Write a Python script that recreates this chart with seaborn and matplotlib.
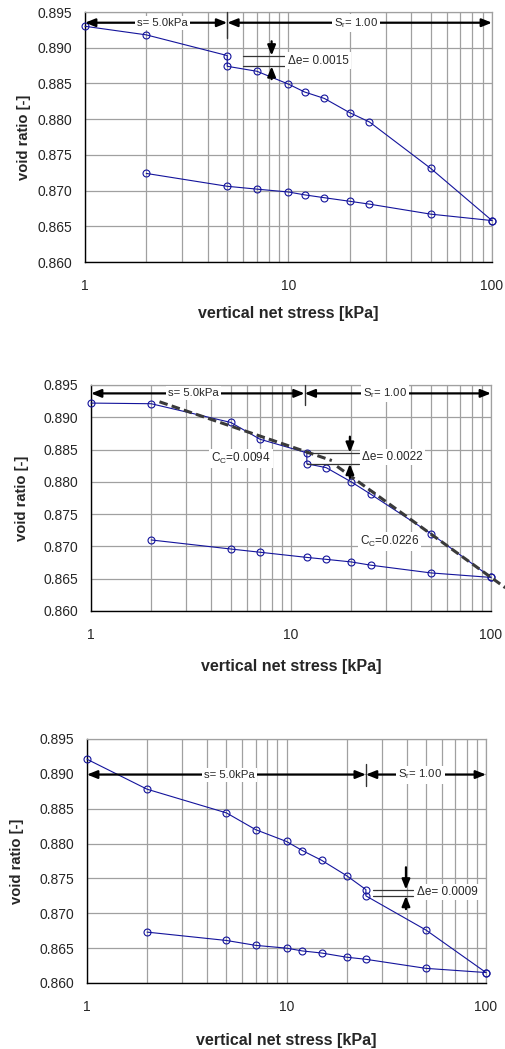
import numpy as np
import pandas as pd
import matplotlib
matplotlib.use("Agg")
import matplotlib.pyplot as plt
from matplotlib.ticker import LogLocator, FixedLocator, NullFormatter, FixedFormatter
import seaborn as sns

sns.set_style("white")
plt.rcParams['font.family'] = ['Liberation Sans', 'DejaVu Sans']
plt.rcParams['mathtext.fontset'] = 'custom'
plt.rcParams['mathtext.rm'] = 'Liberation Sans'
plt.rcParams['mathtext.it'] = 'Liberation Sans'

# ---------------- data ----------------
p1_load_x = [1, 2, 5, 5, 7, 10, 12, 15, 20, 25, 50, 100]
p1_load_e = [0.8930, 0.8918, 0.8889, 0.8874, 0.8867, 0.8849, 0.8838, 0.8829, 0.8809, 0.8796, 0.8731, 0.8658]
p1_unload_x = [100, 50, 25, 20, 15, 12, 10, 7, 5, 2]
p1_unload_e = [0.8658, 0.8667, 0.8681, 0.8685, 0.8690, 0.8694, 0.8698, 0.8702, 0.8706, 0.8724]

p2_load_x = [1, 2, 5, 7, 12, 12, 15, 20, 25, 50, 100]
p2_load_e = [0.8922, 0.8921, 0.8892, 0.8866, 0.8845, 0.8828, 0.8822, 0.8800, 0.8781, 0.8720, 0.8652]
p2_unload_x = [100, 50, 25, 20, 15, 12, 7, 5, 2]
p2_unload_e = [0.8652, 0.8659, 0.8671, 0.8676, 0.8680, 0.8683, 0.8691, 0.8696, 0.8710]

p3_load_x = [1, 2, 5, 7, 10, 12, 15, 20, 25, 25, 50, 100]
p3_load_e = [0.8921, 0.8878, 0.8844, 0.8820, 0.8803, 0.8790, 0.8776, 0.8754, 0.8734, 0.8725, 0.8676, 0.8615]
p3_unload_x = [100, 50, 25, 20, 15, 12, 10, 7, 5, 2]
p3_unload_e = [0.8615, 0.8621, 0.8634, 0.8637, 0.8643, 0.8646, 0.8650, 0.8654, 0.8661, 0.8673]

# compression index fit lines (panel 2)
cc1_x = [2.2, 16.0]
cc1_e = [0.8924, 0.8833]
cc2_x = [17.0, 118.0]
cc2_e = [0.8824, 0.8636]
cc_labels = ["C$_\\mathrm{C}$=0.0094", "C$_\\mathrm{C}$=0.0226"]

suction_label = "s= 5.0kPa"
sr_label = "S$_\\mathrm{r}$= 1.00"
de_labels = ["\u0394e= 0.0015", "\u0394e= 0.0022", "\u0394e= 0.0009"]

y_ticks = [0.860, 0.865, 0.870, 0.875, 0.880, 0.885, 0.890, 0.895]
x_ticks = [1, 10, 100]
x_ticklabels = ["1", "10", "100"]

xlabel = "vertical net stress [kPa]"
ylabel = "void ratio [-]"

# ---------------- layout/style ----------------
W, H = 506, 1049
fig = plt.figure(figsize=(W / 100, H / 100), dpi=100)

def px_axes(l, r, t, b):
    return fig.add_axes([l / W, 1 - b / H, (r - l) / W, (b - t) / H])

navy = '#14149c'
gridc = '#a0a0a0'

panels = [
    dict(box=(85, 492, 12, 262), load=(p1_load_x, p1_load_e), unload=(p1_unload_x, p1_unload_e),
         arrow_y=0.8935, split=5, tick=(0.8914, 0.8950), s_x=2.4, sr_x=21.5,
         de_lines=(0.8889, 0.8874), de_x=(6.0, 9.6), de_ax=8.26, de_from=(0.8909, 0.8856),
         de_txt=(9.9, 0.8882), de_label=de_labels[0], ylc=-0.132, xlc=-0.175),
    dict(box=(91, 491, 385, 611), load=(p2_load_x, p2_load_e), unload=(p2_unload_x, p2_unload_e),
         arrow_y=0.8937, split=11.7, tick=(0.8919, 0.8950), s_x=3.24, sr_x=29.5,
         de_lines=(0.8845, 0.8828), de_x=(12.0, 21.9), de_ax=19.7, de_from=(0.8870, 0.8806),
         de_txt=(22.6, 0.8839), de_label=de_labels[1], ylc=-0.155, xlc=-0.212),
    dict(box=(87, 486, 739, 983), load=(p3_load_x, p3_load_e), unload=(p3_unload_x, p3_unload_e),
         arrow_y=0.8899, split=25, tick=(0.8883, 0.8914), s_x=5.2, sr_x=47,
         de_lines=(0.8734, 0.8725), de_x=(27.0, 43.0), de_ax=39.7, de_from=(0.8766, 0.8706),
         de_txt=(45, 0.8730), de_label=de_labels[2], ylc=-0.158, xlc=-0.204),
]

txt_box = dict(facecolor='white', edgecolor='none', pad=1.5)
arrow_kw = dict(arrowstyle='<|-|>,head_length=0.6,head_width=0.24', color='black', lw=1.6,
                shrinkA=0, shrinkB=0)
single_kw = dict(arrowstyle='-|>,head_length=0.6,head_width=0.24', color='black', lw=1.6,
                 shrinkA=0, shrinkB=0)

for i, p in enumerate(panels):
    ax = px_axes(*p['box'])
    ax.set_xscale('log')
    ax.set_xlim(1, 100)
    ax.set_ylim(0.860, 0.895)

    for xs, es in (p['load'], p['unload']):
        df = pd.DataFrame({'stress': xs, 'e': es})
        sns.lineplot(data=df, x='stress', y='e', ax=ax, sort=False, estimator=None,
                     color=navy, linewidth=0.8, marker='o', markersize=5,
                     markerfacecolor='none', markeredgecolor=navy, markeredgewidth=0.8,
                     clip_on=False, zorder=4)

    # grid
    ax.xaxis.set_major_locator(FixedLocator(x_ticks))
    ax.xaxis.set_major_formatter(FixedFormatter(x_ticklabels))
    ax.xaxis.set_minor_locator(LogLocator(base=10, subs=np.arange(2, 10)))
    ax.xaxis.set_minor_formatter(NullFormatter())
    ax.set_yticks(y_ticks)
    ax.set_yticklabels([f"{v:.3f}" for v in y_ticks])
    ax.grid(True, which='both', axis='x', color=gridc, lw=0.9)
    ax.grid(True, which='major', axis='y', color=gridc, lw=0.9)
    ax.set_axisbelow(True)
    ax.tick_params(axis='both', which='major', direction='out', length=5, width=0.9,
                   color='black', labelsize=10)
    ax.tick_params(axis='y', pad=4)
    ax.tick_params(axis='x', pad=7)
    ax.tick_params(which='minor', length=0)
    for s in ('left', 'bottom'):
        ax.spines[s].set_color('black')
        ax.spines[s].set_linewidth(1.0)
    for s in ('top', 'right'):
        ax.spines[s].set_color(gridc)
        ax.spines[s].set_linewidth(0.9)

    ax.set_xlabel(xlabel, fontsize=11.5, fontweight='bold', va='top')
    ax.set_ylabel(ylabel, fontsize=10.6, fontweight='bold')
    ax.xaxis.set_label_coords(0.5, p['xlc'])
    ax.yaxis.set_label_coords(p['ylc'], 0.5)

    # suction / saturation arrows
    ay = p['arrow_y']
    ax.annotate('', xy=(1, ay), xytext=(p['split'], ay), arrowprops=arrow_kw, zorder=6,
                annotation_clip=False)
    ax.annotate('', xy=(p['split'], ay), xytext=(100, ay), arrowprops=arrow_kw, zorder=6,
                annotation_clip=False)
    ax.plot([p['split'], p['split']], list(p['tick']), color='#333333', lw=1.0, zorder=6,
            clip_on=False)
    ax.text(p['s_x'], ay, suction_label, ha='center', va='center', fontsize=8.2,
            bbox=txt_box, zorder=7)
    ax.text(p['sr_x'], ay, sr_label, ha='center', va='center', fontsize=8.2,
            bbox=txt_box, zorder=7)

    # delta e annotation
    for yl in p['de_lines']:
        ax.plot(list(p['de_x']), [yl, yl], color='#333333', lw=0.9, zorder=6)
    ax.annotate('', xy=(p['de_ax'], p['de_lines'][0]), xytext=(p['de_ax'], p['de_from'][0]),
                arrowprops=single_kw, zorder=6)
    ax.annotate('', xy=(p['de_ax'], p['de_lines'][1]), xytext=(p['de_ax'], p['de_from'][1]),
                arrowprops=single_kw, zorder=6)
    ax.text(p['de_txt'][0], p['de_txt'][1], p['de_label'], ha='left', va='center',
            fontsize=8.5, bbox=txt_box, zorder=7)

    if i == 1:
        for xs, es in ((cc1_x, cc1_e), (cc2_x, cc2_e)):
            ax.plot(xs, es, color='#3a3a3a', lw=2.2, ls=(0, (2.8, 1.4)), zorder=5,
                    clip_on=False)
        ax.text(4.0, 0.8836, cc_labels[0], ha='left', va='center', fontsize=8.5,
                bbox=txt_box, zorder=7)
        ax.text(22.1, 0.8708, cc_labels[1], ha='left', va='center', fontsize=8.5,
                bbox=txt_box, zorder=7)

fig.savefig('out.png', dpi=100)
